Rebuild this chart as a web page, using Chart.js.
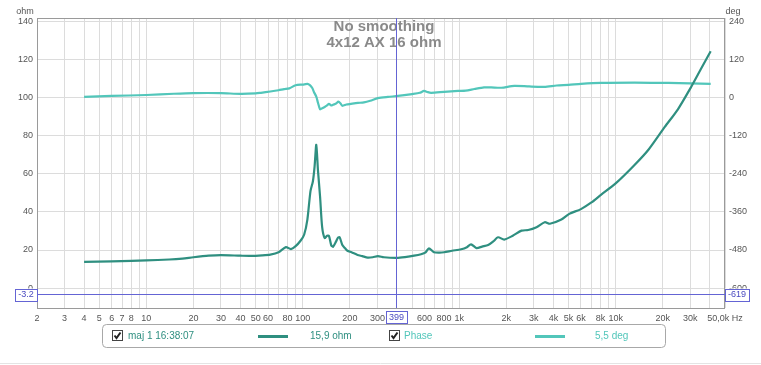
<!DOCTYPE html>
<html>
<head>
<meta charset="utf-8">
<script src="https://cdn.jsdelivr.net/npm/chart.js@4.4.0/dist/chart.umd.min.js"></script>
<style>
  body { margin: 0; background: #fff; }
  #wrap { width: 761px; height: 365px; position: relative; }
</style>
</head>
<body>
<div id="wrap"><canvas id="impChart"></canvas></div>
<script>
// Impedance curve (ohm)
const impFreq = [4, 6, 8, 10, 14, 17, 20, 25, 30, 40, 46, 55, 62, 70, 78, 84, 90, 97, 102, 107, 112, 116, 119, 122, 125, 129, 133, 138, 143, 147, 152, 156, 163, 168, 172, 179, 186, 193, 205, 224, 240, 260, 280, 302, 330, 399, 450, 515, 570, 610, 640, 690, 750, 800, 900, 1030, 1120, 1190, 1290, 1400, 1530, 1650, 1770, 1940, 2200, 2500, 2760, 3120, 3520, 3800, 4500, 5050, 6000, 7000, 8050, 10000, 13200, 16300, 20600, 25000, 30500, 35000, 40500];
const impOhm = [13.8, 14.0, 14.3, 14.5, 15.0, 15.5, 16.2, 17.0, 17.3, 17.0, 16.9, 17.2, 17.6, 18.8, 21.5, 20.5, 22, 25, 28, 36, 51, 56, 64, 75.3, 62, 48, 32, 26.3, 27.5, 27.4, 22.5, 21.7, 24.4, 26.5, 26.7, 22.6, 21, 19.6, 18.8, 17.4, 16.8, 16.0, 16.2, 16.8, 16.2, 15.9, 16.3, 17.0, 17.8, 18.8, 20.9, 18.8, 18.6, 18.8, 19.6, 20.4, 21.5, 23, 21, 21.8, 22.6, 24.5, 26.7, 25.5, 27.5, 30.2, 30.5, 32, 34.6, 33.8, 36, 39, 41.5, 45, 49, 55, 64.7, 73, 84.7, 94, 106, 115, 124.5];

// Phase curve (deg)
const phaseFreq = [4, 6, 10, 15, 20, 30, 40, 50, 54, 62, 70, 76, 82, 90, 100, 107, 111, 115, 118, 122, 125, 129, 133, 138, 143, 147, 152, 156, 163, 169, 174, 179, 190, 203, 225, 246, 270, 302, 350, 406, 500, 560, 596, 630, 661, 800, 983, 1100, 1250, 1440, 1600, 1860, 2250, 2800, 3500, 4200, 5000, 6000, 8050, 13200, 21700, 30000, 40500];
const phaseDeg = [3, 6, 9, 13, 15, 15, 12.6, 14, 16, 20, 24, 27.5, 30, 40, 42, 44, 40, 31, 18, 4, -15, -36, -33, -29, -24, -19, -24, -22, -18, -12, -17, -25, -21, -19, -16, -14, -9, -1, 3, 6, 12, 16, 22, 18, 16, 19, 22, 23, 28, 33, 33, 32, 38, 36, 35, 39, 41, 44, 47, 48, 47, 46, 44];

// axis ticks
const xTickValues = [2, 3, 4, 5, 6, 7, 8, 10, 20, 30, 40, 50, 60, 80, 100, 200, 300, 600, 800, 1000, 2000, 3000, 4000, 5000, 6000, 8000, 10000, 20000, 30000, 50000];
const xTickText = ['2', '3', '4', '5', '6', '7', '8', '10', '20', '30', '40', '50', '60', '80', '100', '200', '300', '600', '800', '1k', '2k', '3k', '4k', '5k', '6k', '8k', '10k', '20k', '30k', '50,0k Hz'];
const ohmTicks = [0, 20, 40, 60, 80, 100, 120, 140];
const degTicks = [-600, -480, -360, -240, -120, 0, 120, 240];

const cursorFreq = 399;
const cursorOhm = -3.2;
const cursorDeg = -619;

const impColor = '#2f8f80';
const phaseColor = '#52c6ba';
const cursorColor = '#6464d4';

// grid lines at every 1..9 multiple of each decade
const xGrid = [];
for (let d = 1; d <= 10000; d *= 10) {
  for (let m = 1; m <= 9; m++) {
    const v = m * d;
    if (v >= 2 && v <= 50000) xGrid.push(v);
  }
}

const labelFor = {};
xTickValues.forEach((v, i) => { labelFor[v] = xTickText[i]; });

const tickFont = { family: 'Liberation Sans, Arial, sans-serif', size: 9 };

function box(ctx, text, cx, cy) {
  ctx.font = '9px Liberation Sans, Arial, sans-serif';
  const w = ctx.measureText(text).width + 6;
  ctx.fillStyle = '#fff';
  ctx.fillRect(cx - w / 2, cy - 6, w, 12);
  ctx.strokeStyle = cursorColor;
  ctx.lineWidth = 1;
  ctx.strokeRect(Math.round(cx - w / 2) + 0.5, Math.round(cy - 6) + 0.5, Math.round(w), 12);
  ctx.fillStyle = '#4a4ac0';
  ctx.textAlign = 'center';
  ctx.textBaseline = 'middle';
  ctx.fillText(text, cx, cy + 0.5);
}

function checkbox(ctx, x, y) {
  ctx.fillStyle = '#fff';
  ctx.fillRect(x, y, 11, 11);
  ctx.strokeStyle = '#444';
  ctx.lineWidth = 1;
  ctx.strokeRect(x + 0.5, y + 0.5, 10, 10);
  ctx.strokeStyle = '#222';
  ctx.lineWidth = 2;
  ctx.beginPath();
  ctx.moveTo(x + 2.5, y + 5.5);
  ctx.lineTo(x + 4.5, y + 8);
  ctx.lineTo(x + 8.5, y + 2.5);
  ctx.stroke();
}

const overlay = {
  id: 'overlay',
  afterDatasetsDraw(chart) {
    const { ctx, chartArea: a, scales } = chart;
    ctx.save();
    // frame
    ctx.strokeStyle = '#9a9a9a';
    ctx.lineWidth = 1;
    ctx.strokeRect(a.left + 0.5, a.top + 0.5, a.right - a.left - 1, a.bottom - a.top);

    // title
    const cx = (a.left + a.right) / 2 + 3;
    ctx.fillStyle = '#8a8a8a';
    ctx.font = 'bold 15px Liberation Sans, Arial, sans-serif';
    ctx.textAlign = 'center';
    ctx.textBaseline = 'middle';
    ctx.fillText('No smoothing', cx, 27);
    ctx.fillText('4x12 AX 16 ohm', cx, 43);

    // units
    ctx.font = '9px Liberation Sans, Arial, sans-serif';
    ctx.fillStyle = '#555';
    ctx.textAlign = 'center';
    ctx.fillText('ohm', 25, 12);
    ctx.fillText('deg', 733, 12);

    // cursor lines
    const xp = Math.round(scales.x.getPixelForValue(cursorFreq)) - 0.5;
    const yp = Math.round(scales.y.getPixelForValue(cursorOhm)) + 0.5;
    ctx.strokeStyle = cursorColor;
    ctx.lineWidth = 1;
    ctx.beginPath();
    ctx.moveTo(xp, a.top);
    ctx.lineTo(xp, a.bottom);
    ctx.moveTo(a.left, yp);
    ctx.lineTo(a.right, yp);
    ctx.stroke();
    box(ctx, String(cursorFreq), xp, a.bottom + 9);
    box(ctx, String(cursorOhm), a.left - 11, yp);
    box(ctx, String(cursorDeg), a.right + 12, yp);
    ctx.restore();
  },
  afterDraw(chart) {
    const ctx = chart.ctx;
    ctx.save();
    // legend panel
    ctx.strokeStyle = '#a8a8a8';
    ctx.lineWidth = 1;
    ctx.beginPath();
    ctx.roundRect(102.5, 324.5, 563, 23, 4);
    ctx.stroke();
    checkbox(ctx, 112, 330);
    checkbox(ctx, 389, 330);
    ctx.font = '10px Liberation Sans, Arial, sans-serif';
    ctx.textBaseline = 'middle';
    ctx.textAlign = 'left';
    ctx.fillStyle = impColor;
    ctx.fillText('maj 1 16:38:07', 128, 336.5);
    ctx.fillText('15,9 ohm', 310, 336.5);
    ctx.fillStyle = phaseColor;
    ctx.fillText('Phase', 404, 336.5);
    ctx.fillText('5,5 deg', 595, 336.5);
    ctx.lineWidth = 3;
    ctx.strokeStyle = impColor;
    ctx.beginPath(); ctx.moveTo(258, 336.5); ctx.lineTo(288, 336.5); ctx.stroke();
    ctx.strokeStyle = phaseColor;
    ctx.beginPath(); ctx.moveTo(535, 336.5); ctx.lineTo(565, 336.5); ctx.stroke();
    // bottom separator
    ctx.strokeStyle = '#e4e4e4';
    ctx.lineWidth = 1;
    ctx.beginPath(); ctx.moveTo(0, 363.5); ctx.lineTo(761, 363.5); ctx.stroke();
    ctx.restore();
  }
};

const ctx = document.getElementById('impChart').getContext('2d');
const impChart = new Chart(ctx, {
  type: 'line',
  data: {
    datasets: [{
      label: 'maj 1 16:38:07',
      data: impFreq.map((f, i) => ({ x: f, y: impOhm[i] })),
      borderColor: impColor,
      borderWidth: 2.2,
      pointRadius: 0,
      tension: 0.25,
      yAxisID: 'y'
    }, {
      label: 'Phase',
      data: phaseFreq.map((f, i) => ({ x: f, y: phaseDeg[i] })),
      borderColor: phaseColor,
      borderWidth: 2.2,
      pointRadius: 0,
      tension: 0.25,
      yAxisID: 'y2'
    }]
  },
  options: {
    responsive: true,
    maintainAspectRatio: false,
    animation: false,
    layout: { padding: { top: 18, left: 0, right: 0, bottom: 0 } },
    plugins: { legend: { display: false }, tooltip: { enabled: false } },
    scales: {
      x: {
        type: 'logarithmic',
        min: 2,
        max: 50000,
        afterBuildTicks: s => { s.ticks = xGrid.map(v => ({ value: v })); },
        afterFit: s => { s.height = 57; },
        grid: { color: '#dcdcdc', drawTicks: false },
        border: { display: false },
        ticks: {
          autoSkip: false,
          maxRotation: 0,
          padding: 5,
          color: '#555',
          font: tickFont,
          callback: v => labelFor[v] || ''
        }
      },
      y: {
        position: 'left',
        min: -10.5,
        max: 142,
        afterBuildTicks: s => { s.ticks = ohmTicks.map(v => ({ value: v })); },
        afterFit: s => { s.width = 37; },
        grid: { color: '#dcdcdc', drawTicks: false },
        border: { display: false },
        ticks: { padding: 4, color: '#555', font: tickFont }
      },
      y2: {
        position: 'right',
        min: -663,
        max: 252,
        afterBuildTicks: s => { s.ticks = degTicks.map(v => ({ value: v })); },
        afterFit: s => { s.width = 36; },
        grid: { drawOnChartArea: false, drawTicks: false },
        border: { display: false },
        ticks: { padding: 4, color: '#555', font: tickFont }
      }
    }
  },
  plugins: [overlay]
});
</script>
</body>
</html>
